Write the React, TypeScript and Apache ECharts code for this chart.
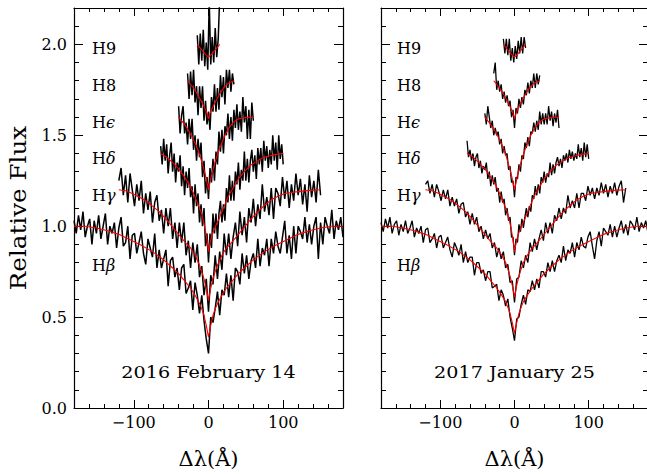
import React, { useEffect, useRef } from "react";
import * as echarts from "echarts";

// ---- axis ranges ----
const X_MIN = -180;
const X_MAX = 180;
const Y_MIN = 0;
const Y_MAX = 2.2;

const FONT = "DejaVu Serif";

// ---- observed spectra (relative flux x100), left panel: 2016 February 14 ----
// Hβ: x from -180 step 3
const betaL = [
  103, 96, 106, 98, 108, 94, 100, 104, 90, 103,
  96, 106, 93, 100, 107, 90, 100, 96, 102, 88,
  99, 105, 89, 91, 100, 82, 95, 96, 85, 91,
  97, 85, 79, 93, 88, 83, 96, 77, 87, 77,
  82, 87, 67, 81, 83, 72, 77, 65, 77, 79,
  63, 66, 70, 54, 69, 62, 52, 62, 48, 38,
  30, 50, 47, 55, 64, 51, 65, 62, 74, 61,
  73, 59, 77, 75, 68, 85, 74, 84, 71, 81,
  85, 77, 93, 78, 88, 84, 93, 78, 93, 85,
  97, 89, 85, 94, 103, 85, 95, 82, 100, 85,
  100, 97, 93, 105, 91, 101, 90, 100, 105, 82,
  102, 90, 105, 100, 96, 109, 93, 103, 98, 105,
  94,
];
// Hγ: x from -120 step 3
const gammaL = [
  125, 132, 117, 128, 113, 129, 120, 111, 123, 114,
  125, 107, 118, 109, 119, 102, 113, 117, 103, 109,
  96, 110, 100, 110, 93, 102, 88, 102, 91, 102,
  84, 92, 77, 91, 80, 90, 72, 78, 62, 71,
  53, 73, 68, 84, 71, 86, 76, 96, 84, 96,
  82, 94, 102, 89, 108, 95, 105, 91, 110, 102,
  115, 100, 112, 104, 123, 108, 116, 106, 121, 104,
  121, 118, 111, 127, 115, 125, 110, 123, 114, 129,
  117, 126, 112, 123, 108, 128, 116, 125, 113, 131,
  117,
];
// Hδ: x from -64 step 2
const deltaL = [
  144, 134, 148, 136, 145, 129, 139, 146, 130, 140,
  124, 135, 130, 139, 122, 133, 117, 130, 121, 132,
  116, 122, 107, 123, 111, 118, 102, 112, 100, 110,
  89, 96, 80, 96, 88, 107, 96, 107, 93, 107,
  114, 102, 112, 103, 121, 113, 128, 114, 125, 114,
  130, 123, 135, 120, 131, 125, 141, 125, 137, 124,
  136, 142, 130, 139, 126, 143, 134, 143, 130, 147,
  136, 144, 132, 142, 134, 150, 136, 146, 131, 150,
  137, 145, 134,
];
// Hϵ: x from -40 step 2
const epsL = [
  166, 151, 161, 166, 151, 157, 145, 159, 148, 159,
  142, 150, 136, 148, 138, 146, 127, 136, 118, 127,
  115, 132, 124, 137, 125, 141, 134, 152, 141, 153,
  140, 155, 150, 162, 148, 160, 147, 164, 154, 167,
  153, 163, 152, 171, 157, 166, 148, 164, 148, 168,
  158,
];
// H8: x from -28 step 2
const h8L = [
  184, 170, 185, 172, 186, 168, 177, 161, 177, 165,
  177, 158, 169, 156, 163, 153, 171, 163, 178, 163,
  176, 164, 183, 171, 182, 167, 186, 176, 186, 174,
  184, 178,
];
// H9: x from -15 step 2
const h9L = [205, 189, 206, 191, 208, 188, 201, 186, 224, 189, 204, 190, 209, 193, 203, 226];

// ---- observed spectra (relative flux x100), right panel: 2017 January 25 ----
const betaR = [
  102, 97, 104, 99, 105, 96, 101, 103, 95, 101,
  97, 103, 96, 99, 103, 94, 99, 96, 100, 91,
  98, 99, 91, 93, 96, 88, 94, 95, 88, 91,
  94, 87, 83, 91, 88, 84, 90, 80, 86, 80,
  83, 83, 73, 80, 80, 74, 76, 70, 75, 75,
  66, 67, 68, 59, 65, 62, 56, 60, 50, 44,
  37, 49, 50, 57, 62, 57, 65, 64, 70, 65,
  71, 66, 75, 75, 72, 80, 75, 81, 75, 81,
  84, 80, 89, 81, 87, 85, 91, 83, 91, 87,
  94, 89, 88, 94, 97, 89, 82, 92, 97, 89,
  99, 97, 95, 101, 94, 100, 94, 99, 103, 96,
  101, 95, 103, 101, 98, 105, 97, 102, 99, 103,
  96,
];
const gammaR = [
  123, 125, 118, 123, 116, 123, 119, 114, 120, 115,
  120, 111, 116, 111, 115, 107, 112, 113, 105, 108,
  101, 107, 101, 105, 97, 100, 93, 98, 93, 96,
  88, 91, 83, 88, 82, 86, 77, 79, 69, 70,
  58, 71, 72, 81, 77, 84, 80, 91, 86, 93,
  87, 93, 98, 92, 102, 96, 102, 96, 106, 103,
  110, 104, 110, 107, 117, 110, 114, 110, 118, 110,
  118, 118, 114, 122, 117, 121, 115, 121, 117, 124,
  118, 123, 116, 122, 118, 124, 117, 122, 125, 113,
  121,
];
const deltaR = [
  147, 138, 142, 136, 140, 133, 138, 140, 132, 136,
  129, 133, 131, 135, 126, 130, 122, 128, 123, 127,
  119, 121, 113, 119, 113, 115, 106, 110, 103, 105,
  94, 94, 84, 93, 91, 101, 97, 104, 99, 105,
  110, 105, 111, 108, 117, 115, 122, 117, 123, 118,
  127, 124, 130, 124, 129, 127, 135, 128, 134, 129,
  135, 138, 133, 137, 132, 139, 136, 140, 135, 142,
  137, 141, 136, 140, 137, 145, 138, 143, 136, 146,
  138, 145, 137,
];
const epsR = [
  162, 156, 166, 160, 154, 158, 150, 154, 150, 152,
  145, 148, 140, 144, 139, 140, 131, 133, 124, 125,
  116, 127, 126, 134, 130, 139, 137, 146, 143, 149,
  144, 152, 151, 157, 152, 158, 153, 163, 156, 162,
  156, 162, 156, 166, 158, 163, 155, 162, 157, 164,
  154,
];
const h8R = [
  184, 190, 175, 180, 174, 178, 170, 174, 168, 172,
  166, 169, 160, 164, 154, 165, 162, 170, 165, 171,
  167, 175, 172, 179, 173, 180, 176, 184, 176, 184,
  178, 183,
];
const h9R = [203, 195, 203, 194, 203, 191, 198, 190, 199, 192, 202, 195, 204, 195, 204, 198];

// wavelength grid start and step (Å) of each spectrum
const gridBeta = { x0: -180, step: 3 };
const gridGamma = { x0: -120, step: 3 };
const gridDelta = { x0: -64, step: 2 };
const gridEps = { x0: -40, step: 2 };
const gridH8 = { x0: -28, step: 2 };
const gridH9 = { x0: -15, step: 2 };

// ---- model fits (red) ----
const betaModelX = [-180, -165, -150, -135, -120, -105, -90, -75, -60, -48, -39, -30, -24, -18, -12, -9, -6, -3, 0, 3, 6, 9, 12, 18, 24, 30, 39, 48, 60, 75, 90, 105, 120, 135, 150, 165, 180];
const betaModelL = [1.0, 1.0, 0.99, 0.975, 0.955, 0.925, 0.895, 0.86, 0.815, 0.77, 0.735, 0.69, 0.66, 0.62, 0.575, 0.545, 0.51, 0.455, 0.39, 0.455, 0.51, 0.545, 0.575, 0.62, 0.66, 0.69, 0.735, 0.77, 0.815, 0.86, 0.895, 0.925, 0.955, 0.975, 0.99, 1.0, 1.0];
const betaModelR = [1.0, 1.0, 0.99, 0.975, 0.955, 0.925, 0.895, 0.86, 0.815, 0.77, 0.735, 0.69, 0.66, 0.625, 0.585, 0.555, 0.52, 0.47, 0.41, 0.47, 0.52, 0.555, 0.585, 0.625, 0.66, 0.69, 0.735, 0.77, 0.815, 0.86, 0.895, 0.925, 0.955, 0.975, 0.99, 1.0, 1.0];

const gammaModelX = [-120, -111, -102, -93, -84, -75, -66, -57, -48, -39, -30, -24, -18, -12, -9, -6, -3, 0, 3, 6, 9, 12, 18, 24, 30, 39, 48, 57, 66, 75, 84, 93, 102, 111, 120, 135, 150];
const gammaModelL = [1.2, 1.195, 1.18, 1.16, 1.14, 1.11, 1.08, 1.04, 0.995, 0.95, 0.905, 0.88, 0.84, 0.785, 0.75, 0.71, 0.66, 0.59, 0.66, 0.71, 0.75, 0.785, 0.84, 0.88, 0.905, 0.95, 0.995, 1.04, 1.08, 1.115, 1.145, 1.165, 1.18, 1.185, 1.19, 1.197, 1.2];
const gammaModelR = [1.2, 1.195, 1.18, 1.16, 1.14, 1.11, 1.08, 1.04, 0.995, 0.95, 0.905, 0.88, 0.845, 0.8, 0.765, 0.725, 0.675, 0.61, 0.675, 0.725, 0.765, 0.8, 0.845, 0.88, 0.905, 0.95, 0.995, 1.04, 1.08, 1.115, 1.145, 1.165, 1.18, 1.185, 1.19, 1.197, 1.2];

const deltaModelX = [-64, -56, -48, -40, -32, -26, -20, -14, -10, -6, -4, -2, 0, 2, 4, 6, 10, 14, 20, 26, 32, 40, 48, 56, 64, 72, 80, 90, 100];
const deltaModel = [1.4, 1.38, 1.35, 1.315, 1.27, 1.23, 1.18, 1.12, 1.08, 1.015, 0.975, 0.925, 0.86, 0.905, 0.94, 0.965, 1.005, 1.04, 1.1, 1.16, 1.205, 1.26, 1.3, 1.335, 1.355, 1.375, 1.385, 1.395, 1.4];

const epsModelX = [-40, -34, -28, -22, -16, -12, -8, -4, -2, 0, 2, 4, 8, 12, 16, 22, 28, 34, 40, 50, 60];
const epsModel = [1.6, 1.57, 1.535, 1.49, 1.44, 1.395, 1.34, 1.28, 1.24, 1.2, 1.24, 1.28, 1.34, 1.395, 1.44, 1.5, 1.545, 1.575, 1.59, 1.598, 1.6];

const h8ModelX = [-28, -20, -14, -8, -4, -2, 0, 2, 4, 8, 14, 20, 26, 34];
const h8Model = [1.8, 1.76, 1.72, 1.675, 1.64, 1.62, 1.59, 1.62, 1.64, 1.675, 1.72, 1.76, 1.785, 1.8];

const h9ModelX = [-15, -8, -4, 0, 4, 8, 15];
const h9Model = [2.0, 1.965, 1.945, 1.93, 1.945, 1.965, 2.0];

// ---- labels ----
const lineLabels = [
  { name: "H9", greek: "", y: 48 },
  { name: "H8", greek: "", y: 85 },
  { name: "H", greek: "ϵ", y: 122 },
  { name: "H", greek: "δ", y: 158.5 },
  { name: "H", greek: "γ", y: 195 },
  { name: "H", greek: "β", y: 265.5 },
];
const panelTitles = ["2016 February 14", "2017 January 25"];
const yTitle = "Relative Flux";
const xTitle = "Δλ(Å)";

const toSeriesData = (arr: number[], g: { x0: number; step: number }) =>
  arr.map((v, i) => [g.x0 + i * g.step, v / 100]);
const pair = (xs: number[], ys: number[]) => xs.map((x, i) => [x, ys[i]]);

const GRIDS = [
  { left: 74, top: 8, width: 269, height: 400 },
  { left: 381, top: 8, width: 267, height: 400 },
];
const OBS_WIDTH = [1.5, 1.3];

export default function App() {
  const ref = useRef<HTMLDivElement>(null);

  useEffect(() => {
    if (!ref.current) return;
    const chart = echarts.init(ref.current, null, { renderer: "svg" });

    const lineStyleAxis = { color: "#000", width: 1.2 };
    const tickStyle = { color: "#000", width: 1 };

    const xAxes: any[] = [];
    const yAxes: any[] = [];
    GRIDS.forEach((_, gi) => {
      const baseX = {
        type: "value",
        gridIndex: gi,
        min: X_MIN,
        max: X_MAX,
        splitLine: { show: false },
      };
      xAxes.push({
        ...baseX,
        position: "bottom",
        splitNumber: 5,
        axisLine: { show: true, onZero: false, lineStyle: lineStyleAxis },
        axisTick: { show: true, inside: true, length: 8, lineStyle: tickStyle },
        axisLabel: {
          show: true,
          margin: 6,
          color: "#000",
          fontFamily: FONT,
          fontSize: 16,
          showMinLabel: false,
          showMaxLabel: false,
          formatter: (v: number) => String(v).replace("-", "\u2212"),
        },
      });
      xAxes.push({
        ...baseX,
        position: "bottom",
        interval: 20,
        axisLine: { show: false, onZero: false },
        axisTick: { show: true, inside: true, length: 4, lineStyle: tickStyle },
        axisLabel: { show: false },
      });
      xAxes.push({
        ...baseX,
        position: "top",
        splitNumber: 5,
        axisLine: { show: true, onZero: false, lineStyle: lineStyleAxis },
        axisTick: { show: true, inside: true, length: 8, lineStyle: tickStyle },
        axisLabel: { show: false },
      });
      xAxes.push({
        ...baseX,
        position: "top",
        interval: 20,
        axisLine: { show: false, onZero: false },
        axisTick: { show: true, inside: true, length: 4, lineStyle: tickStyle },
        axisLabel: { show: false },
      });

      const baseY = {
        type: "value",
        gridIndex: gi,
        min: Y_MIN,
        max: Y_MAX,
        splitLine: { show: false },
      };
      yAxes.push({
        ...baseY,
        position: "left",
        interval: 0.5,
        axisLine: { show: true, onZero: false, lineStyle: lineStyleAxis },
        axisTick: { show: true, inside: true, length: 9, lineStyle: tickStyle },
        axisLabel: {
          show: gi === 0,
          margin: 7,
          color: "#000",
          fontFamily: FONT,
          fontSize: 16,
          showMinLabel: true,
          showMaxLabel: false,
          formatter: (v: number) => (Math.abs(v - 2.2) < 1e-6 ? "" : v.toFixed(1)),
        },
      });
      yAxes.push({
        ...baseY,
        position: "left",
        interval: 0.1,
        axisLine: { show: false, onZero: false },
        axisTick: { show: true, inside: true, length: 5, lineStyle: tickStyle },
        axisLabel: { show: false },
      });
      yAxes.push({
        ...baseY,
        position: "right",
        interval: 0.5,
        axisLine: { show: true, onZero: false, lineStyle: lineStyleAxis },
        axisTick: { show: true, inside: true, length: 9, lineStyle: tickStyle },
        axisLabel: { show: false },
      });
      yAxes.push({
        ...baseY,
        position: "right",
        interval: 0.1,
        axisLine: { show: false, onZero: false },
        axisTick: { show: true, inside: true, length: 5, lineStyle: tickStyle },
        axisLabel: { show: false },
      });
    });

    const obsSeries = (data: number[][], gi: number) => ({
      type: "line",
      xAxisIndex: gi * 4,
      yAxisIndex: gi * 4,
      data,
      symbol: "none",
      showSymbol: false,
      silent: true,
      clip: true,
      lineStyle: { color: "#000", width: OBS_WIDTH[gi] },
      z: 2,
    });
    const modelSeries = (data: number[][], gi: number) => ({
      type: "line",
      xAxisIndex: gi * 4,
      yAxisIndex: gi * 4,
      data,
      symbol: "none",
      showSymbol: false,
      silent: true,
      clip: true,
      lineStyle: { color: "#ff0000", width: 1.1 },
      z: 3,
    });

    const series: any[] = [
      obsSeries(toSeriesData(betaL, gridBeta), 0),
      obsSeries(toSeriesData(gammaL, gridGamma), 0),
      obsSeries(toSeriesData(deltaL, gridDelta), 0),
      obsSeries(toSeriesData(epsL, gridEps), 0),
      obsSeries(toSeriesData(h8L, gridH8), 0),
      obsSeries(toSeriesData(h9L, gridH9), 0),
      obsSeries(toSeriesData(betaR, gridBeta), 1),
      obsSeries(toSeriesData(gammaR, gridGamma), 1),
      obsSeries(toSeriesData(deltaR, gridDelta), 1),
      obsSeries(toSeriesData(epsR, gridEps), 1),
      obsSeries(toSeriesData(h8R, gridH8), 1),
      obsSeries(toSeriesData(h9R, gridH9), 1),
      modelSeries(pair(betaModelX, betaModelL), 0),
      modelSeries(pair(gammaModelX, gammaModelL), 0),
      modelSeries(pair(deltaModelX, deltaModel), 0),
      modelSeries(pair(epsModelX, epsModel), 0),
      modelSeries(pair(h8ModelX, h8Model), 0),
      modelSeries(pair(h9ModelX, h9Model), 0),
      modelSeries(pair(betaModelX, betaModelR), 1),
      modelSeries(pair(gammaModelX, gammaModelR), 1),
      modelSeries(pair(deltaModelX, deltaModel), 1),
      modelSeries(pair(epsModelX, epsModel), 1),
      modelSeries(pair(h8ModelX, h8Model), 1),
      modelSeries(pair(h9ModelX, h9Model), 1),
    ];

    const rich = {
      r: { fontFamily: FONT, fontSize: 16, fill: "#000" },
      g: { fontFamily: FONT, fontSize: 16, fontStyle: "italic", fill: "#000" },
    };
    const graphics: any[] = [];
    [92, 397].forEach((lx) => {
      lineLabels.forEach((l) => {
        graphics.push({
          type: "text",
          x: lx,
          y: l.y,
          silent: true,
          style: {
            text: l.greek ? `{r|${l.name}}{g|${l.greek}}` : `{r|${l.name}}`,
            rich,
            fill: "#000",
            font: `16px "${FONT}"`,
            textAlign: "left",
            textVerticalAlign: "middle",
          },
        });
      });
    });
    const centers = [GRIDS[0].left + GRIDS[0].width / 2, GRIDS[1].left + GRIDS[1].width / 2];
    panelTitles.forEach((t, i) => {
      graphics.push({
        type: "text",
        x: centers[i],
        y: 372,
        scaleX: 1.13,
        silent: true,
        style: {
          text: t,
          fill: "#000",
          font: `17px "${FONT}"`,
          textAlign: "center",
          textVerticalAlign: "middle",
        },
      });
      graphics.push({
        type: "text",
        x: centers[i],
        y: 459,
        silent: true,
        style: {
          text: xTitle,
          fill: "#000",
          font: `21px "${FONT}"`,
          textAlign: "center",
          textVerticalAlign: "middle",
        },
      });
    });
    graphics.push({
      type: "text",
      x: 18,
      y: 208,
      rotation: Math.PI / 2,
      scaleX: 1.12,
      silent: true,
      style: {
        text: yTitle,
        fill: "#000",
        font: `22px "${FONT}"`,
        textAlign: "center",
        textVerticalAlign: "middle",
      },
    });

    chart.setOption({
      animation: false,
      backgroundColor: "#fff",
      grid: GRIDS.map((g) => ({ ...g, containLabel: false, outerBoundsMode: "none" })),
      xAxis: xAxes,
      yAxis: yAxes,
      series,
      graphic: graphics,
    });

    return () => chart.dispose();
  }, []);

  return (
    <div
      ref={ref}
      style={{ position: "absolute", left: 0, top: 0, width: 647, height: 474 }}
    />
  );
}
